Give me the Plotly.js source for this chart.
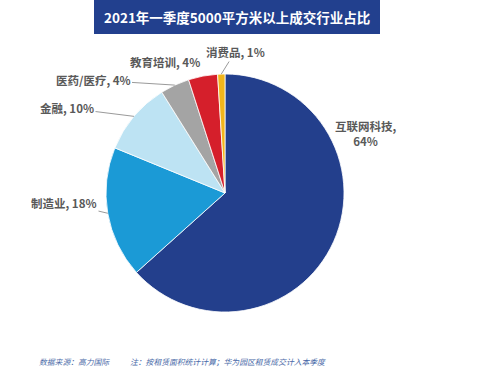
<!DOCTYPE html>
<html>
<head>
<meta charset="utf-8">
<script src="https://cdn.plot.ly/plotly-3.0.1.min.js"></script>
<style>
html,body{margin:0;padding:0;background:#fff;}
#chart{width:500px;height:374px;}
</style>
</head>
<body>
<div id="chart"></div>
<script>
// ---- data ----
var categories = ['互联网科技', '制造业', '金融', '医药/医疗', '教育培训', '消费品'];
var shares = [64, 18, 10, 4, 4, 1];
var titleText = '2021年一季度5000平方米以上成交行业占比';
var sourceText = '数据来源：高力国际';
var noteText = '注：按租赁面积统计计算；华为园区租赁成交计入本季度';

// ---- style ----
var colors = ['#233F8C', '#1B9AD6', '#BDE3F3', '#A4A4A4', '#D51F2B', '#F2B61B'];
var W = 500, H = 374;
var cx = 225, cy = 193, R = 119; // pie centre / radius in pixels
var font = '"Noto Sans CJK SC", "Noto Sans", sans-serif';
var labelColor = '#595959';
// label text centre positions (pixels), and whether a leader line is drawn
var labelPos = [
  {x: 365, y: 133, line: false},
  {x: 64, y: 203, line: true},
  {x: 67, y: 108, line: true},
  {x: 93, y: 80, line: true},
  {x: 165, y: 62, line: false},
  {x: 235, y: 52, line: true}
];

var total = shares.reduce(function(a, b){ return a + b; }, 0);
var annotations = [];
var cum = 0;
for (var i = 0; i < shares.length; i++) {
  var mid = (cum + shares[i] / 2) / total * 2 * Math.PI;
  cum += shares[i];
  var ex = cx + R * Math.sin(mid);
  var ey = cy - R * Math.cos(mid);
  var txt = i === 0 ? categories[i] + ',<br>' + shares[i] + '%' : categories[i] + ', ' + shares[i] + '%';
  var p = labelPos[i];
  var base = {
    text: '<b>' + txt + '</b>',
    font: {family: font, size: 11.5, color: labelColor},
    xref: 'paper', yref: 'paper'
  };
  if (p.line) {
    base.x = ex / W; base.y = 1 - ey / H;
    base.showarrow = true; base.arrowhead = 0; base.arrowwidth = 1;
    base.arrowcolor = '#9A9A9A'; base.standoff = 0;
    base.ax = p.x - ex; base.ay = p.y - ey;
  } else {
    base.x = p.x / W; base.y = 1 - p.y / H;
    base.showarrow = false; base.xanchor = 'center'; base.yanchor = 'middle';
  }
  annotations.push(base);
}

// title
annotations.push({
  text: '<b>' + titleText + '</b>', xref: 'paper', yref: 'paper',
  x: 237 / W, y: 1 - 17 / H, showarrow: false, xanchor: 'center', yanchor: 'middle',
  font: {family: font, size: 13.5, color: '#FFFFFF'}
});
// footnotes
annotations.push({
  text: '<i>' + sourceText + '</i>', xref: 'paper', yref: 'paper',
  x: 37 / W, y: 1 - 361 / H, showarrow: false, xanchor: 'left', yanchor: 'middle',
  font: {family: font, size: 7.8, color: '#4A6AA8'}
});
annotations.push({
  text: '<i>' + noteText + '</i>', xref: 'paper', yref: 'paper',
  x: 128 / W, y: 1 - 361 / H, showarrow: false, xanchor: 'left', yanchor: 'middle',
  font: {family: font, size: 7.8, color: '#4A6AA8'}
});

var trace = {
  type: 'pie',
  labels: categories,
  values: shares,
  sort: false,
  direction: 'clockwise',
  rotation: 0,
  marker: {colors: colors, line: {color: '#FFFFFF', width: 0.8}},
  textinfo: 'none',
  hoverinfo: 'label+percent',
  showlegend: false,
  domain: {x: [(cx - R) / W, (cx + R) / W], y: [1 - (cy + R) / H, 1 - (cy - R) / H]}
};

var layout = {
  width: W, height: H,
  margin: {l: 0, r: 0, t: 0, b: 0},
  paper_bgcolor: '#FFFFFF',
  showlegend: false,
  shapes: [{
    type: 'rect', xref: 'paper', yref: 'paper',
    x0: 94 / W, x1: 380 / W, y0: 1 - 34 / H, y1: 1,
    fillcolor: '#22408E', line: {width: 0}, layer: 'below'
  }],
  annotations: annotations
};

Plotly.newPlot('chart', [trace], layout, {displayModeBar: false, staticPlot: true});
</script>
</body>
</html>
